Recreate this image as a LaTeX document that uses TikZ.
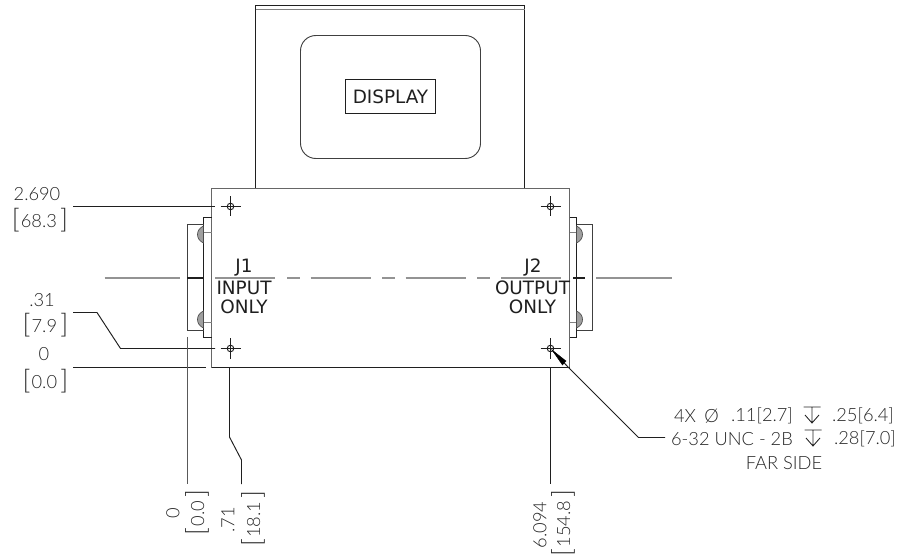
\documentclass[tikz,border=0pt]{standalone}
\usepackage{fontspec}
\setmainfont{DejaVu Sans}
\newfontfamily\dimfont{Lato Light}
\newfontfamily\lblfont{DejaVu Sans}
\newcommand{\lbk}{{\fontsize{20}{20}\selectfont\raisebox{-1pt}{[}}\hspace{0.8pt}}
\newcommand{\rbk}{\hspace{2.5pt}{\fontsize{20}{20}\selectfont\raisebox{-1pt}{]}}}
\definecolor{ink}{gray}{0.12}
\definecolor{dimink}{gray}{0.15}
\tikzset{
  edge/.style={draw=ink,line width=0.8pt},
  thin edge/.style={draw=ink!85,line width=0.7pt},
  centerline/.style={draw=gray!85,line width=1.5pt},
  leader/.style={draw=ink,line width=0.72pt},
  vleader/.style={draw=black!65,line width=0.8pt},
  dimtext/.style={font=\dimfont\fontsize{13.7}{14}\selectfont,text=dimink,inner sep=0pt},
  lbl/.style={font=\lblfont\fontsize{13.8}{14}\selectfont,text=ink,inner sep=0pt},
  depth/.pic={
    \draw[draw=dimink,line width=0.65pt] (-8.5,-9) -- (8.5,-9) (0,-9) -- (0,7) (-7,-1) -- (0,7) -- (7,-1);
  }
}
\begin{document}
\begin{tikzpicture}[x=0.75pt,y=-0.75pt]
\useasboundingbox (0,0) rectangle (897,556);
% display housing
\draw[edge] (255.5,188) -- (255.5,5.5) -- (524.5,5.5) -- (524.5,188);
\draw[edge,draw=gray] (255.5,9.5) -- (524.5,9.5);
\draw[thin edge,rounded corners=11.5pt] (300.5,35.5) rectangle (480.5,158.5);
\node[lbl,draw=ink,line width=0.8pt,minimum width=67.5pt,minimum height=25.5pt] (disp) at (390.5,96.5) {DISPLAY};
% main body
\draw[edge,draw=gray!80!black,fill=white] (211.5,188.5) rectangle (569.5,367.5);
\draw[edge] (211.5,367.5) -- (569.5,367.5);
% connectors
\foreach \p/\b/\w in {203.5/187.5/211.5, 576.5/592.5/569.5}{
  \draw[edge] (\w,217.5) -- (\p,217.5) -- (\p,337.5) -- (\w,337.5);
  \draw[thin edge] (\p,224.5) -- (\b,224.5) -- (\b,330.5) -- (\p,330.5);
  \draw[thin edge,draw=gray] (\p,232.5) -- (\w,232.5) (\p,322.5) -- (\w,322.5);
}
\foreach \yc in {234.5,319.5}{
  \draw[fill=gray!75,draw=gray!60!black,line width=0.5pt] (203.5,\yc-8.5) .. controls (195.5,\yc-5) and (195.5,\yc+5) .. (203.5,\yc+8.5) -- cycle;
  \draw[fill=gray!75,draw=gray!60!black,line width=0.5pt] (576.5,\yc-8.5) .. controls (584.5,\yc-5) and (584.5,\yc+5) .. (576.5,\yc+8.5) -- cycle;
}
% centre line
\foreach \a/\b in {104.5/180,215/275,287/300,310.5/371,382/395,405.5/466,477/490,501/561,596/672}{
  \draw[centerline] (\a,278) -- (\b,278);
}
\draw[edge,line width=1pt] (187,278) -- (204,278);
\draw[edge,line width=1pt] (573,278) -- (585,278);
% holes
\foreach \cx/\cy/\n in {230.5/206.5/a,230.5/348.5/b,550.5/206.5/c,550.5/348.5/d}{
  \coordinate (h\n) at (\cx,\cy);
  \draw[edge,line width=0.7pt] (\cx-10,\cy) -- (\cx+10,\cy) (\cx,\cy-10) -- (\cx,\cy+10);
  \draw[edge,line width=0.7pt] (\cx,\cy) circle[radius=3.3];
}
% labels
\node[lbl] (j1) at (244,268) {J1};
\node[lbl] (in) at (244,288) {INPUT};
\node[lbl] (on1) at (244,307) {ONLY};
\node[lbl] (j2) at (533,268) {J2};
\node[lbl] (out) at (532.5,288) {OUTPUT};
\node[lbl] (on2) at (532.5,307) {ONLY};
% left dims
\node[dimtext] (d1a) at (37,194) {2.690};
\node[dimtext] (d1b) at (40,220) {\lbk68.3\rbk};
\node[dimtext] (d2a) at (42,300) {.31};
\node[dimtext] (d2b) at (45.5,325) {\lbk7.9\rbk};
\node[dimtext] (d3a) at (44,354) {0};
\node[dimtext] (d3b) at (45.5,381) {\lbk0.0\rbk};
\coordinate (l1) at (73,206.5); \coordinate (l1e) at (215,206.5);
\draw[leader] (l1) -- (l1e);
\coordinate (l2) at (73,312.5); \coordinate (l2e) at (215,348.5);
\draw[leader] (l2) -- (97,312.5) -- (120.5,348.5) -- (l2e);
\coordinate (l3) at (73,367.5); \coordinate (l3e) at (206,367.5);
\draw[leader] (l3) -- (l3e);
% bottom dims
\coordinate (v1) at (187.5,337); \coordinate (v1e) at (187.5,484);
\draw[vleader] (v1) -- (v1e);
\coordinate (v2) at (229.5,367.5); \coordinate (v2e) at (241.5,484);
\draw[leader] (v2) -- (229.5,437) -- (241.5,460) -- (v2e);
\coordinate (v3) at (550.5,367.5); \coordinate (v3e) at (550.5,484);
\draw[leader] (v3) -- (v3e);
\node[dimtext,rotate=90] (b1a) at (173,513) {0};
\node[dimtext,rotate=90] (b1b) at (197,512.5) {\lbk0.0\rbk};
\node[dimtext,rotate=90] (b2a) at (228,520) {.71};
\node[dimtext,rotate=90] (b2b) at (253,518.5) {\lbk18.1\rbk};
\node[dimtext,rotate=90] (b3a) at (540,525) {6.094};
\node[dimtext,rotate=90] (b3b) at (563,523) {\lbk154.8\rbk};
% callout
\coordinate (tip) at (552,350);
\coordinate (k1) at (568,367);
\coordinate (k2) at (638.5,437.5);
\coordinate (k3) at (665,437.5);
\draw[leader] (k1) -- (k2) -- (k3);
\draw[leader] (tip) -- (k1);
\draw[fill=black,draw=black,line width=0.3pt] (tip) -- (566,361) -- (562.5,365) -- cycle;
\node[dimtext] (t1a) at (685,416) {4X};
\node[dimtext] (t1b) at (711.5,416) {Ø};
\node[dimtext] (t1c) at (762,416) {.11[2.7]};
\pic at (812,416) {depth};
\node[dimtext] (t1d) at (863,416) {.25[6.4]};
\node[dimtext] (t2a) at (732,439) {6-32 UNC - 2B};
\pic at (813,439) {depth};
\node[dimtext] (t2d) at (865,439) {.28[7.0]};
\node[dimtext] (t3) at (784,463) {FAR SIDE};
\end{tikzpicture}
\end{document}
